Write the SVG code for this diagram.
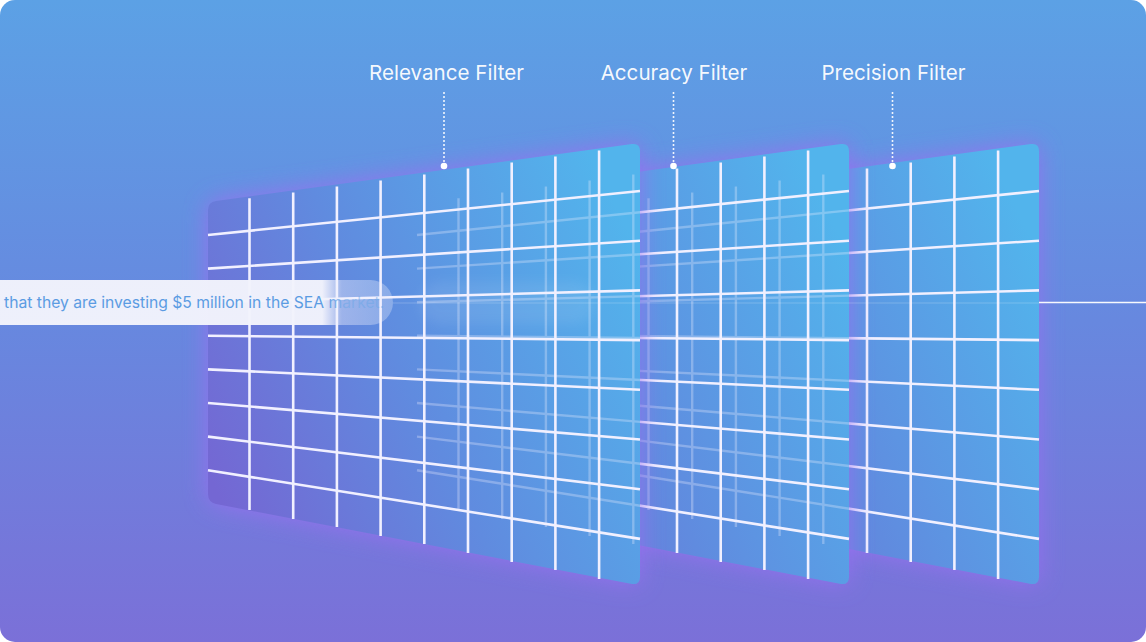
<svg xmlns="http://www.w3.org/2000/svg" xmlns:xlink="http://www.w3.org/1999/xlink" width="1146" height="642" viewBox="0 0 1146 642">
  <defs>
    <linearGradient id="bg" x1="0" y1="0" x2="0" y2="1">
      <stop offset="0" stop-color="#5ca1e5"/>
      <stop offset="0.5" stop-color="#6788df"/>
      <stop offset="1" stop-color="#7b70d8"/>
    </linearGradient>
    <linearGradient id="panelFill" x1="0" y1="0.75" x2="1" y2="0.25">
      <stop offset="0" stop-color="#7467d3"/>
      <stop offset="0.45" stop-color="#608bdf"/>
      <stop offset="1" stop-color="#52b4ec"/>
    </linearGradient>
    <linearGradient id="pillGrad" gradientUnits="userSpaceOnUse" x1="0" y1="0" x2="393" y2="0">
      <stop offset="0" stop-color="#f2f3fc" stop-opacity="0.97"/>
      <stop offset="0.82" stop-color="#f2f3fc" stop-opacity="0.97"/>
      <stop offset="0.87" stop-color="#eef0fc" stop-opacity="0.42"/>
      <stop offset="1" stop-color="#eef0fc" stop-opacity="0.3"/>
    </linearGradient>
    <linearGradient id="textGrad" gradientUnits="userSpaceOnUse" x1="0" y1="0" x2="393" y2="0">
      <stop offset="0" stop-color="#5b9be2"/>
      <stop offset="0.83" stop-color="#5b9be2"/>
      <stop offset="0.88" stop-color="#6aa6e6" stop-opacity="0.5"/>
      <stop offset="1" stop-color="#6aa6e6" stop-opacity="0.5"/>
    </linearGradient>
    <filter id="glow" x="-30%" y="-30%" width="160%" height="160%">
      <feGaussianBlur stdDeviation="12"/>
    </filter>
    <filter id="soft" x="-30%" y="-50%" width="160%" height="200%">
      <feGaussianBlur stdDeviation="6"/>
    </filter>
    <path id="panelShape" d="M208,210 Q208,202 216,201 L632,144 Q640,143 640,151 L640,577 Q640,585 632,584 L216,504 Q208,502 208,494 Z"/>
    <clipPath id="clip1"><use xlink:href="#panelShape"/></clipPath>
    <clipPath id="clip2"><use xlink:href="#panelShape" transform="translate(209,0)"/></clipPath>
    <g id="grid">
      <line x1="208" y1="235" x2="640" y2="191"/>
      <line x1="208" y1="268.6" x2="640" y2="240.7"/>
      <line x1="208" y1="302.2" x2="640" y2="290.4"/>
      <line x1="208" y1="335.8" x2="640" y2="340.1"/>
      <line x1="208" y1="369.4" x2="640" y2="389.8"/>
      <line x1="208" y1="403" x2="640" y2="439.5"/>
      <line x1="208" y1="436.6" x2="640" y2="489.2"/>
      <line x1="208" y1="470.2" x2="640" y2="538.9"/>
      <line x1="249.5" y1="198.3" x2="249.5" y2="510"/>
      <line x1="293.2" y1="192.4" x2="293.2" y2="519"/>
      <line x1="336.9" y1="186.4" x2="336.9" y2="527"/>
      <line x1="380.6" y1="180.4" x2="380.6" y2="536"/>
      <line x1="424.3" y1="174.5" x2="424.3" y2="544"/>
      <line x1="468" y1="168.5" x2="468" y2="553"/>
      <line x1="511.7" y1="162.5" x2="511.7" y2="562"/>
      <line x1="555.4" y1="156.5" x2="555.4" y2="570"/>
      <line x1="599.1" y1="150.6" x2="599.1" y2="579"/>
    </g>
  </defs>
  <style>
    .gridlines { stroke: #f1f0ff; stroke-width: 2.6; stroke-linecap: butt; fill: none; }
    .ghost { stroke: #f1f0ff; stroke-width: 2.4; fill: none; opacity: 0.3; }
    .glow { fill: #9a6ff0; opacity: 0.9; filter: url(#glow); }
    .panel { fill: url(#panelFill); }
    .label { font-family: Inter, "Liberation Sans", sans-serif; font-size: 20.6px; fill: #ffffff; fill-opacity: 0.95; text-anchor: middle; }
    .leader { stroke: #ffffff; stroke-width: 1.6; stroke-dasharray: 2 2; opacity: 0.9; }
    .dot { fill: #ffffff; }
  </style>

  <rect x="0" y="0" width="1146" height="642" fill="#ffffff"/>
  <rect id="background" x="0" y="0" width="1146" height="642" rx="15" fill="url(#bg)"/>

  <!-- Panel 3: Precision Filter (back) -->
  <g id="panel-precision">
    <use xlink:href="#panelShape" class="glow" transform="translate(399,0)"/>
    <use xlink:href="#panelShape" class="panel" transform="translate(399,0)"/>
    <use xlink:href="#grid" class="gridlines" transform="translate(399,0)"/>
  </g>

  <!-- Panel 2: Accuracy Filter -->
  <g id="panel-accuracy">
    <use xlink:href="#panelShape" class="glow" transform="translate(209,0)"/>
    <use xlink:href="#panelShape" class="panel" transform="translate(209,0)"/>
    <g clip-path="url(#clip2)">
      <use xlink:href="#grid" class="ghost" transform="translate(399,0)"/>
    </g>
    <use xlink:href="#grid" class="gridlines" transform="translate(209,0)"/>
  </g>

  <!-- Panel 1: Relevance Filter (front) -->
  <g id="panel-relevance">
    <use xlink:href="#panelShape" class="glow"/>
    <use xlink:href="#panelShape" class="panel"/>
    <g clip-path="url(#clip1)">
      <use xlink:href="#grid" class="ghost" transform="translate(209,0)"/>
      <rect x="420" y="282" width="175" height="42" rx="21" fill="#ffffff" opacity="0.08" filter="url(#soft)"/>
    </g>
    <use xlink:href="#grid" class="gridlines"/>
  </g>

  <!-- Connectors -->
  <g id="connectors">
    <line x1="393" y1="303" x2="1039" y2="303" stroke="#ffffff" stroke-width="1.2" opacity="0.2"/>
    <line x1="1039" y1="302.5" x2="1146" y2="302.5" stroke="#ffffff" stroke-width="1.5" opacity="0.95"/>
    <line class="leader" x1="444" y1="92" x2="444" y2="163"/>
    <circle class="dot" cx="444" cy="166" r="3.3"/>
    <line class="leader" x1="673.5" y1="92" x2="673.5" y2="163"/>
    <circle class="dot" cx="673.5" cy="166" r="3.3"/>
    <line class="leader" x1="892.5" y1="92" x2="892.5" y2="163"/>
    <circle class="dot" cx="892.5" cy="166" r="3.3"/>
  </g>

  <!-- Input sentence pill -->
  <g id="input-pill">
    <rect x="-30" y="280" width="423" height="45" rx="22.5" fill="url(#pillGrad)"/>
    <text x="4" y="308" font-family="Inter, 'Liberation Sans', sans-serif" font-size="15.7" fill="url(#textGrad)">that they are investing $5 million in the SEA market.</text>
  </g>

  <!-- Labels -->
  <g id="label-relevance"><text class="label" x="446.5" y="80">Relevance Filter</text></g>
  <g id="label-accuracy"><text class="label" x="674" y="80">Accuracy Filter</text></g>
  <g id="label-precision"><text class="label" x="893.5" y="80">Precision Filter</text></g>
</svg>
